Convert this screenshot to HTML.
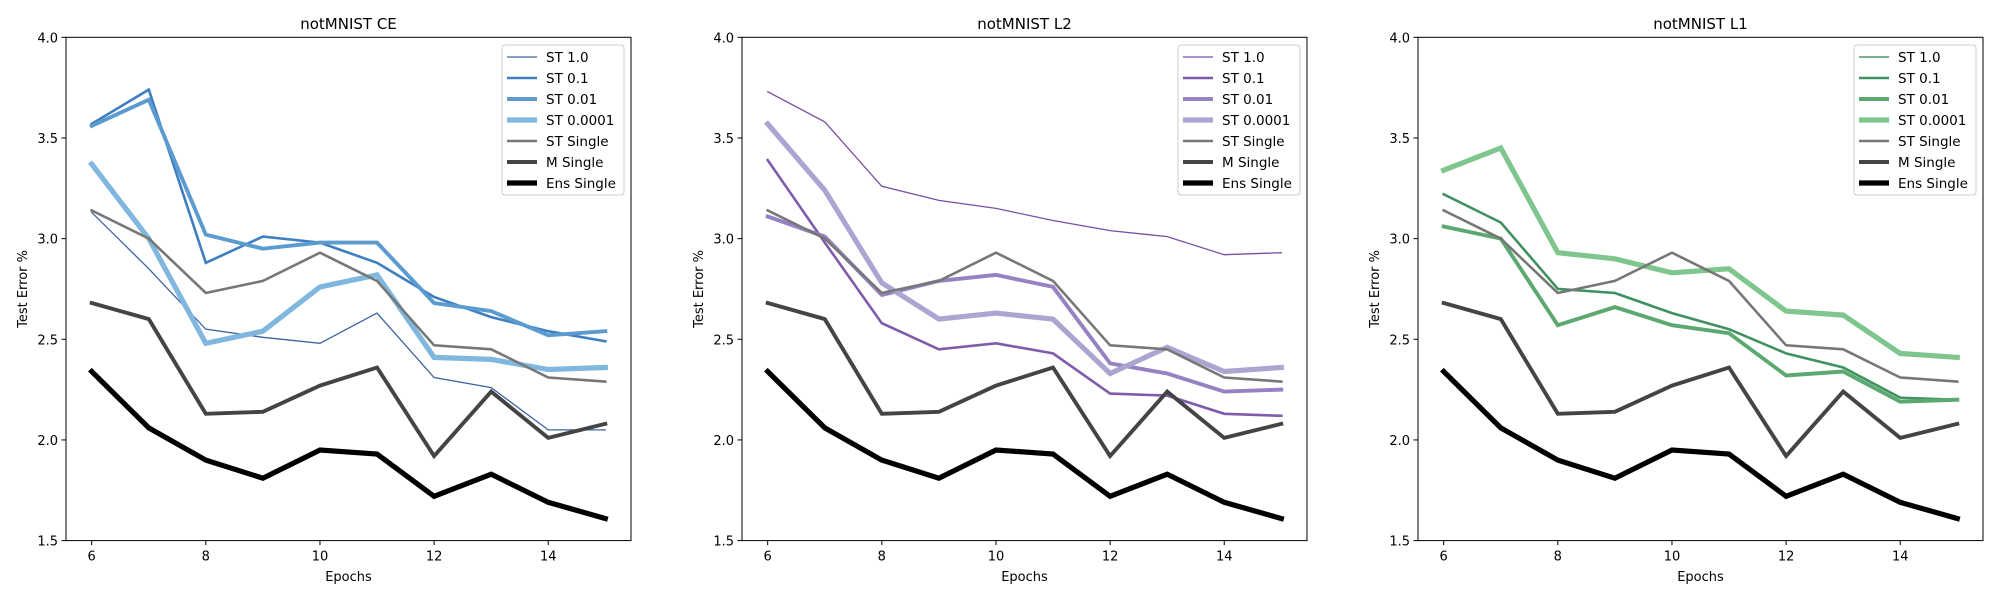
<!DOCTYPE html>
<html><head><meta charset="utf-8"><style>
body{margin:0;background:#fff;}
svg{display:block;font-family:"DejaVu Sans","Liberation Sans",sans-serif;}
</style></head><body>
<svg id="fig" width="2000" height="600" viewBox="0 0 2000 600"></svg>
<script>
const epochs = [6,7,8,9,10,11,12,13,14,15];
const yTicks = [1.5,2.0,2.5,3.0,3.5,4.0];
const xTicks = [6,8,10,12,14];
const seriesNames = ["ST 1.0","ST 0.1","ST 0.01","ST 0.0001","ST Single","M Single","Ens Single"];
const stSingle = [3.14,3.00,2.73,2.79,2.93,2.79,2.47,2.45,2.31,2.29];
const mSingle = [2.68,2.60,2.13,2.14,2.27,2.36,1.92,2.24,2.01,2.08];
const ensSingle = [2.34,2.06,1.90,1.81,1.95,1.93,1.72,1.83,1.69,1.61];
const ce_st1 = [3.13,2.85,2.55,2.51,2.48,2.63,2.31,2.26,2.05,2.05];
const ce_st01 = [3.57,3.74,2.88,3.01,2.98,2.88,2.71,2.61,2.54,2.49];
const ce_st001 = [3.56,3.69,3.02,2.95,2.98,2.98,2.68,2.64,2.52,2.54];
const ce_st00001 = [3.37,3.00,2.48,2.54,2.76,2.82,2.41,2.40,2.35,2.36];
const l2_st1 = [3.73,3.58,3.26,3.19,3.15,3.09,3.04,3.01,2.92,2.93];
const l2_st01 = [3.39,2.98,2.58,2.45,2.48,2.43,2.23,2.22,2.13,2.12];
const l2_st001 = [3.11,3.01,2.72,2.79,2.82,2.76,2.38,2.33,2.24,2.25];
const l2_st00001 = [3.57,3.24,2.78,2.60,2.63,2.60,2.33,2.46,2.34,2.36];
const l1_st1 = [3.22,3.08,2.75,2.73,2.63,2.55,2.43,2.36,2.21,2.20];
const l1_st01 = [3.22,3.08,2.75,2.73,2.63,2.55,2.43,2.36,2.21,2.20];
const l1_st001 = [3.06,3.00,2.57,2.66,2.57,2.53,2.32,2.34,2.19,2.20];
const l1_st00001 = [3.34,3.45,2.93,2.90,2.83,2.85,2.64,2.62,2.43,2.41];

const NS="http://www.w3.org/2000/svg";
const fig=document.getElementById('fig');
function mk(tag,attrs,parent){const e=document.createElementNS(NS,tag);for(const k in attrs)e.setAttribute(k,attrs[k]);parent.appendChild(e);return e;}
const widths=[1.3,2.6,3.9,5.2,2.6,3.9,5.2];
const panels=[
 {title:"notMNIST CE",key:"ce",left:66,data:[ce_st1,ce_st01,ce_st001,ce_st00001],colors:["#3b64a0","#3f7fbf","#5b9bd0","#80b7de"]},
 {title:"notMNIST L2",key:"l2",left:742,data:[l2_st1,l2_st01,l2_st001,l2_st00001],colors:["#7a4ea6","#7f5cab","#9682c3","#aaa5d1"]},
 {title:"notMNIST L1",key:"l1",left:1418,data:[l1_st1,l1_st01,l1_st001,l1_st00001],colors:["#2e7d4f","#3f9161","#5ba971","#7fc68e"]}
];
const W=565, plotTop=37.3, plotBot=540.6;
panels.forEach(p=>{
  const g=mk('g',{},fig);
  
  
  const xs=v=>p.left+(v-5.55)/9.9*W;
  const ys=v=>plotTop+(4.0-v)/2.5*(plotBot-plotTop);
  const t=mk('text',{x:p.left+W/2,y:29,'text-anchor':'middle','font-size':15,fill:'#000'},g);
  t.textContent=p.title;
  
  
  yTicks.forEach(v=>{
    const y=ys(v);
    const l=mk('line',{x1:p.left-4.5,x2:p.left,y1:y,y2:y,stroke:'#000','stroke-width':1},g);
    
    
    const tx=mk('text',{x:p.left-8,y:y+5,'text-anchor':'end','font-size':13},g);
    tx.textContent=v.toFixed(1);
    
    
  });
  xTicks.forEach(v=>{
    const x=xs(v);
    const l=mk('line',{x1:x,x2:x,y1:plotBot,y2:plotBot+4.5,stroke:'#000','stroke-width':1},g);
    
    
    const tx=mk('text',{x:x,y:plotBot+20,'text-anchor':'middle','font-size':13},g);
    tx.textContent=v;
    
    
  });
  const xl=mk('text',{x:p.left+W/2,y:581,'text-anchor':'middle','font-size':13},g);
  xl.textContent='Epochs';
  
  
  const yl=mk('text',{x:0,y:0,'text-anchor':'middle','font-size':13,transform:`translate(${p.left-39},${(plotTop+plotBot)/2}) rotate(-90)`},g);
  yl.textContent='Test Error %';
  
  
  const all=p.data.concat([stSingle,mSingle,ensSingle]);
  const cols=p.colors.concat(['#777777','#444444','#000000']);
  [0,1,2,3,4,5,6].forEach(i=>{
    const pts=epochs.map((e,j)=>xs(e).toFixed(1)+','+ys(all[i][j]).toFixed(1)).join(' ');
    const pl=mk('polyline',{points:pts,fill:'none',stroke:cols[i],'stroke-width':widths[i],'stroke-linejoin':'miter','stroke-linecap':'square'},g);
    
    
  });
  const fr=mk('rect',{x:p.left,y:plotTop,width:W,height:plotBot-plotTop,fill:'none',stroke:'#000','stroke-width':1},g);
  
  
  const lx=p.left+W-7-122, ly=45;
  const lg=mk('g',{},g);
  
  
  mk('rect',{x:lx,y:ly,width:122,height:150,rx:3,fill:'#fff','fill-opacity':0.8,stroke:'#ccc','stroke-width':1},lg);
  seriesNames.forEach((n,i)=>{
    const y=ly+12+i*21;
    const e=mk('g',{},lg);
    
    
    mk('line',{x1:lx+5,x2:lx+35,y1:y,y2:y,stroke:cols[i],'stroke-width':widths[i]},e);
    const tt=mk('text',{x:lx+44,y:y+5,'font-size':13.5},e);
    tt.textContent=n;
  });
});
</script>
</body></html>
